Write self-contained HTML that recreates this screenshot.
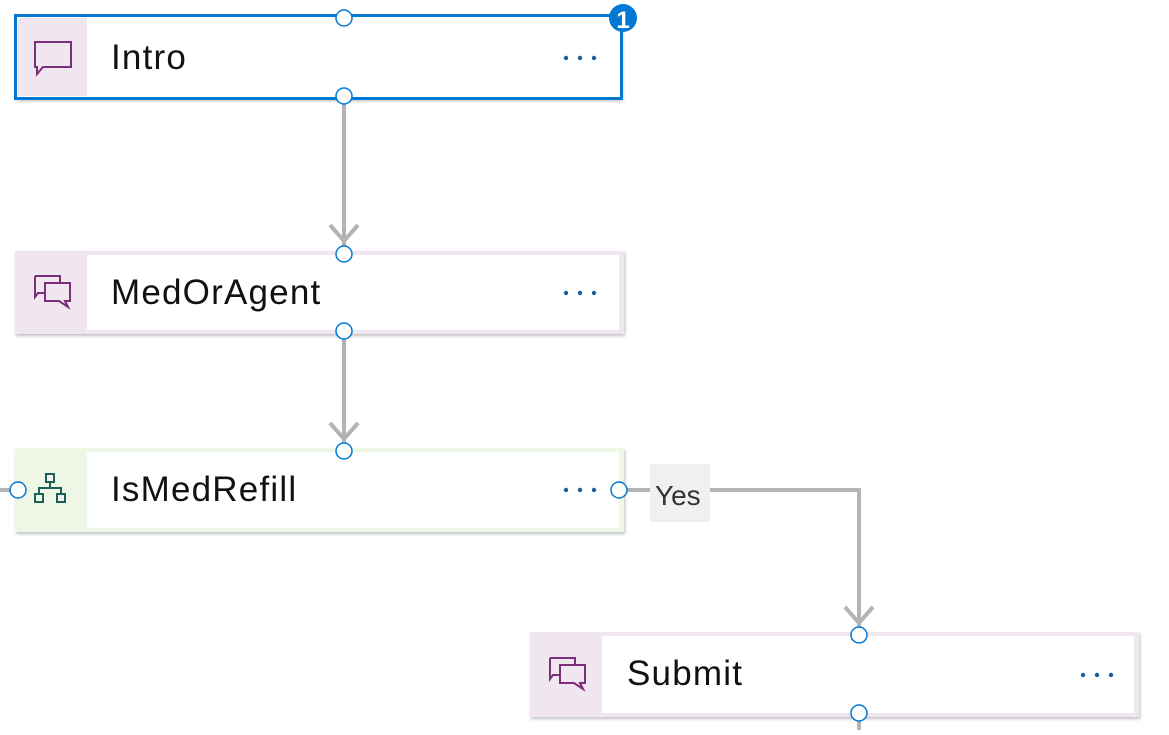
<!DOCTYPE html>
<html><head><meta charset="utf-8"><style>
body{margin:0;background:#fff;width:1169px;height:730px;overflow:hidden}
svg text{font-family:"Liberation Sans",sans-serif}
</style></head><body>
<svg width="1169" height="730" viewBox="0 0 1169 730" xmlns="http://www.w3.org/2000/svg">
<defs>
<filter id="sh" x="-5%" y="-20%" width="110%" height="150%"><feDropShadow dx="1" dy="2" stdDeviation="1.5" flood-color="#000" flood-opacity="0.25"/></filter>
</defs>
<g stroke="#b3b3b6" stroke-width="4" fill="none">
<line x1="344" y1="99" x2="344" y2="250"/>
<polyline points="330,225 344,241 358,225"/>
<line x1="344" y1="332" x2="344" y2="448"/>
<polyline points="330,423 344,439 358,423"/>
<line x1="0" y1="490" x2="10" y2="490"/>
<line x1="627" y1="490" x2="650" y2="490"/>
<polyline points="710,490 859,490 859,630"/>
<polyline points="845,607 859,623 873,607"/>
<line x1="859" y1="720" x2="859" y2="730"/>
</g>
<!-- Intro -->
<rect x="15" y="15" width="607" height="84" fill="#fff" filter="url(#sh)"/>
<rect x="18" y="18" width="69" height="78" fill="#efe6ef"/>
<rect x="15.5" y="15.5" width="606" height="83" fill="none" stroke="#0078d4" stroke-width="3"/>
<path d="M35 42h36v25h-28l-6 7v-7h-2z" fill="none" stroke="#7a2e7b" stroke-width="2"/>
<text x="111" y="69" font-size="35" letter-spacing="1.2" fill="#111">Intro</text>
<g fill="#1f5f99"><circle cx="566" cy="58" r="2.2"/><circle cx="580" cy="58" r="2.2"/><circle cx="594" cy="58" r="2.2"/></g>
<circle cx="623" cy="18" r="14" fill="#0078d4"/>
<text x="623" y="28" font-size="24" fill="#fff" text-anchor="middle" font-weight="bold">1</text>
<!-- MedOrAgent -->
<rect x="15" y="251" width="609" height="83" fill="#efe6ef" filter="url(#sh)"/>
<rect x="87" y="255" width="532" height="75" fill="#fff"/>
<path d="M35 276h25v6M35 276v21l3-4h7M45 283h25v18h-5l3 6-9-6h-14z" fill="none" stroke="#7a2e7b" stroke-width="2"/>
<text x="111" y="304" font-size="35" letter-spacing="1.2" fill="#111">MedOrAgent</text>
<g fill="#1f5f99"><circle cx="566" cy="293" r="2.2"/><circle cx="580" cy="293" r="2.2"/><circle cx="594" cy="293" r="2.2"/></g>
<!-- IsMedRefill -->
<rect x="15" y="448" width="609" height="84" fill="#eef6e6" filter="url(#sh)"/>
<rect x="87" y="452" width="532" height="76" fill="#fff"/>
<g fill="none" stroke="#1f5f5b" stroke-width="2"><rect x="46" y="474" width="8" height="8"/><rect x="35" y="494" width="8" height="8"/><rect x="57" y="494" width="8" height="8"/><path d="M50 482v6M39 494v-6h22v6"/></g>
<text x="111" y="501" font-size="35" letter-spacing="1.2" fill="#111">IsMedRefill</text>
<g fill="#1f5f99"><circle cx="566" cy="490" r="2.2"/><circle cx="580" cy="490" r="2.2"/><circle cx="594" cy="490" r="2.2"/></g>
<rect x="650" y="464" width="60" height="58" fill="#f0f0f0"/>
<text x="655" y="505" font-size="28" fill="#333">Yes</text>
<!-- Submit -->
<rect x="530" y="632" width="609" height="85" fill="#efe6ef" filter="url(#sh)"/>
<rect x="602" y="636" width="532" height="77" fill="#fff"/>
<path d="M550 658h25v6M550 658v21l3-4h7M560 665h25v18h-5l3 6-9-6h-14z" fill="none" stroke="#7a2e7b" stroke-width="2"/>
<text x="627" y="685" font-size="35" letter-spacing="1.2" fill="#111">Submit</text>
<g fill="#1f5f99"><circle cx="1083" cy="675" r="2.2"/><circle cx="1097" cy="675" r="2.2"/><circle cx="1111" cy="675" r="2.2"/></g>
<g fill="#fff" stroke="#0078d4" stroke-width="1.5">
<circle cx="344" cy="18" r="8"/><circle cx="344" cy="96" r="8"/>
<circle cx="344" cy="254" r="8"/><circle cx="344" cy="331" r="8"/>
<circle cx="344" cy="451" r="8"/><circle cx="18" cy="490" r="8"/><circle cx="619" cy="490" r="8"/>
<circle cx="859" cy="635" r="8"/><circle cx="859" cy="713" r="8"/>
</g>
</svg>
</body></html>
